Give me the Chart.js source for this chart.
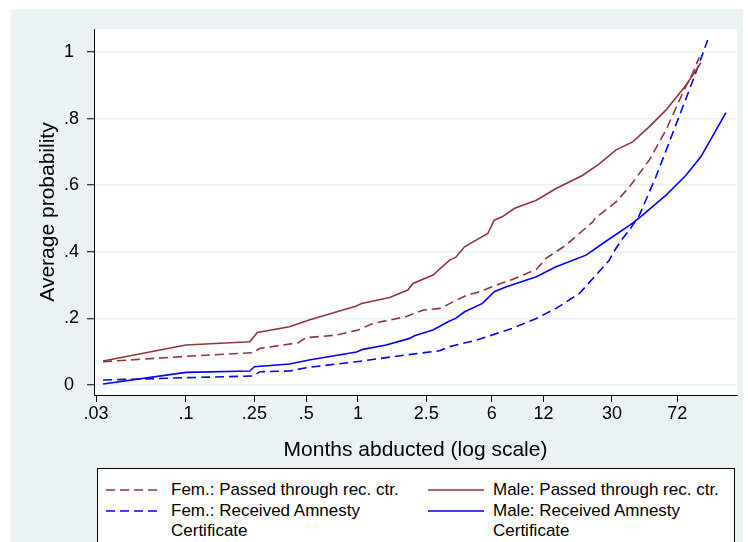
<!DOCTYPE html>
<html lang="en">
<head>
<meta charset="utf-8">
<title>Average probability by months abducted</title>
<script src="https://cdn.jsdelivr.net/npm/chart.js"></script>
<style>
  html, body { margin: 0; padding: 0; background: #fff; }
  #wrap { position: relative; width: 748px; height: 542px; overflow: hidden; }
  #legend {
    position: absolute; left: 97px; top: 468px; width: 638px; height: 80px;
    border: 1px solid #000; background: #fff; box-sizing: border-box;
    font-family: "Liberation Sans", Arial, sans-serif; font-size: 17px; color: #000;
  }
  .item { position: absolute; }
  .item svg { position: absolute; left: 0; top: 0; }
  .item .txt { position: absolute; left: 65px; top: 0; width: 240px; line-height: 20px; }
</style>
</head>
<body>
<div id="wrap">
  <canvas id="chart" width="748" height="542"></canvas>
  <div id="legend"></div>
</div>

<script>
// axis ticks
const monthTicks = [0.03, 0.1, 0.25, 0.5, 1, 2.5, 6, 12, 30, 72];
const monthTickLabels = ['.03', '.1', '.25', '.5', '1', '2.5', '6', '12', '30', '72'];
const probTicks = [0, 0.2, 0.4, 0.6, 0.8, 1];
const probTickLabels = ['0', '.2', '.4', '.6', '.8', '1'];

// Fem.: passed through reception centre (dashed maroon)
const femPassedMonths = [0.033, 0.1, 0.245, 0.27, 0.45, 0.5, 0.75, 1.0, 1.22, 1.9, 2.4, 3.0, 4.3, 5.1, 7.2, 7.9, 10.9, 12.4, 16.2, 23.2, 24.2, 25.3, 31.7, 37.9, 49.5, 61.9, 77.2, 88.3, 96.5];
const femPassedProb   = [0.07, 0.086, 0.097, 0.11, 0.127, 0.142, 0.15, 0.165, 0.185, 0.205, 0.225, 0.23, 0.27, 0.28, 0.31, 0.317, 0.347, 0.38, 0.42, 0.49, 0.505, 0.51, 0.55, 0.595, 0.676, 0.766, 0.876, 0.936, 0.984];

// Male: passed through reception centre (solid maroon)
const malePassedMonths = [0.033, 0.1, 0.235, 0.26, 0.4, 0.52, 0.98, 1.05, 1.53, 1.95, 2.09, 2.73, 3.41, 3.7, 4.17, 4.98, 5.69, 6.2, 6.9, 8.1, 10.9, 14.2, 20.3, 25.3, 31.7, 39.6, 49.5, 61.9, 80.8, 98.8];
const malePassedProb   = [0.072, 0.12, 0.13, 0.158, 0.175, 0.195, 0.237, 0.245, 0.263, 0.285, 0.305, 0.33, 0.375, 0.383, 0.415, 0.438, 0.455, 0.495, 0.505, 0.53, 0.555, 0.59, 0.63, 0.664, 0.706, 0.73, 0.776, 0.826, 0.9, 0.968];

// Fem.: received amnesty certificate (dashed blue)
const femAmnestyMonths = [0.033, 0.1, 0.245, 0.27, 0.4, 0.5, 0.98, 1.89, 2.98, 3.4, 4.9, 7.9, 10.9, 14.2, 19.4, 24.2, 29, 30.3, 34.6, 37.9, 43.3, 54.1, 67.6, 84.5, 96.5, 108];
const femAmnestyProb   = [0.015, 0.022, 0.027, 0.04, 0.042, 0.052, 0.07, 0.09, 0.103, 0.115, 0.135, 0.17, 0.2, 0.23, 0.275, 0.33, 0.375, 0.395, 0.44, 0.465, 0.51, 0.626, 0.756, 0.886, 0.966, 1.036];

// Male: received amnesty certificate (solid blue)
const maleAmnestyMonths = [0.033, 0.1, 0.235, 0.25, 0.4, 0.52, 0.98, 1.07, 1.46, 2.0, 2.13, 2.73, 3.34, 3.7, 4.17, 5.3, 6.2, 7.3, 10.9, 14.2, 21.2, 26.5, 39.6, 45.2, 61.9, 80.8, 98.8, 115, 138];
const maleAmnestyProb   = [0.003, 0.038, 0.042, 0.055, 0.063, 0.075, 0.099, 0.107, 0.12, 0.14, 0.148, 0.165, 0.19, 0.2, 0.22, 0.245, 0.28, 0.295, 0.325, 0.355, 0.39, 0.425, 0.486, 0.51, 0.57, 0.63, 0.686, 0.746, 0.818];

const MAROON = '#90353B';
const BLUE = '#0000FF';
const BG = '#EAF2F3';
const FONT = '"Liberation Sans", Arial, sans-serif';

function pts(xs, ys) {
  return xs.map((x, i) => ({ x: x, y: ys[i] }));
}

function series(label, xs, ys, color, dashed) {
  return {
    label: label,
    data: pts(xs, ys),
    borderColor: color,
    borderWidth: 1.6,
    borderDash: dashed ? [9, 5] : [],
    pointRadius: 0,
    tension: 0,
    fill: false
  };
}

const datasets = [
  series('Fem.: Passed through rec. ctr.', femPassedMonths, femPassedProb, MAROON, true),
  series('Male: Passed through rec. ctr.', malePassedMonths, malePassedProb, MAROON, false),
  series('Fem.: Received Amnesty Certificate', femAmnestyMonths, femAmnestyProb, BLUE, true),
  series('Male: Received Amnesty Certificate', maleAmnestyMonths, maleAmnestyProb, BLUE, false)
];

// stata style backdrop: grey outer region, white plot region
const backdrop = {
  id: 'backdrop',
  beforeDraw(chart) {
    const { ctx, chartArea: a } = chart;
    ctx.save();
    ctx.fillStyle = BG;
    ctx.fillRect(11, 9, 732, 533);
    ctx.fillStyle = '#fff';
    ctx.fillRect(a.left, a.top, a.right - a.left, a.bottom - a.top);
    ctx.restore();
  }
};

new Chart(document.getElementById('chart'), {
  type: 'line',
  data: { datasets: datasets },
  plugins: [backdrop],
  options: {
    responsive: false,
    animation: false,
    devicePixelRatio: 1,
    layout: { padding: { left: 64, top: 29, right: 11, bottom: 72 } },
    plugins: { legend: { display: false }, tooltip: { enabled: false } },
    scales: {
      x: {
        type: 'logarithmic',
        min: 0.0292,
        max: 160,
        afterFit(scale) { scale.height = 75; },
        afterBuildTicks(scale) { scale.ticks = monthTicks.map(v => ({ value: v })); },
        grid: { drawOnChartArea: false, drawTicks: true, tickLength: 7, tickColor: '#000', tickWidth: 1 },
        border: { display: true, color: '#000', width: 1 },
        ticks: {
          autoSkip: false, maxRotation: 0, padding: 1, color: '#000',
          font: { family: FONT, size: 18 },
          callback(v) { const i = monthTicks.indexOf(v); return i < 0 ? '' : monthTickLabels[i]; }
        },
        title: {
          display: true, text: 'Months abducted (log scale)', color: '#000',
          font: { family: FONT, size: 21 }, padding: { top: 0, bottom: 7 }
        }
      },
      y: {
        min: -0.03,
        max: 1.069,
        afterFit(scale) { scale.width = 30; },
        afterBuildTicks(scale) { scale.ticks = probTicks.map(v => ({ value: v })); },
        grid: { color: BG, lineWidth: 1.5, drawTicks: true, tickLength: 7, tickColor: '#000', tickWidth: 1 },
        border: { display: true, color: '#000', width: 1 },
        ticks: {
          crossAlign: 'far', color: '#000',
          font: { family: FONT, size: 18 },
          callback(v) { const i = probTicks.indexOf(v); return i < 0 ? '' : probTickLabels[i]; }
        },
        title: {
          display: true, text: 'Average probability', color: '#000',
          font: { family: FONT, size: 21 }, padding: { top: -28.6, bottom: 0 }
        }
      }
    }
  }
});

// legend in two columns, as in the stata output
const legendSlots = [
  { left: 8, top: 11 },
  { left: 330, top: 11 },
  { left: 8, top: 32 },
  { left: 330, top: 32 }
];
const legendBox = document.getElementById('legend');
datasets.forEach((ds, i) => {
  const slot = legendSlots[i];
  const item = document.createElement('div');
  item.className = 'item';
  item.style.left = slot.left + 'px';
  item.style.top = slot.top + 'px';
  const dash = ds.borderDash.length ? ds.borderDash.join(' ') : 'none';
  item.innerHTML =
    '<svg width="56" height="20"><line x1="0" y1="10" x2="56" y2="10" stroke="' + ds.borderColor +
    '" stroke-width="' + ds.borderWidth + '" stroke-dasharray="' + dash + '"/></svg>' +
    '<div class="txt">' + ds.label + '</div>';
  legendBox.appendChild(item);
});
</script>
</body>
</html>
